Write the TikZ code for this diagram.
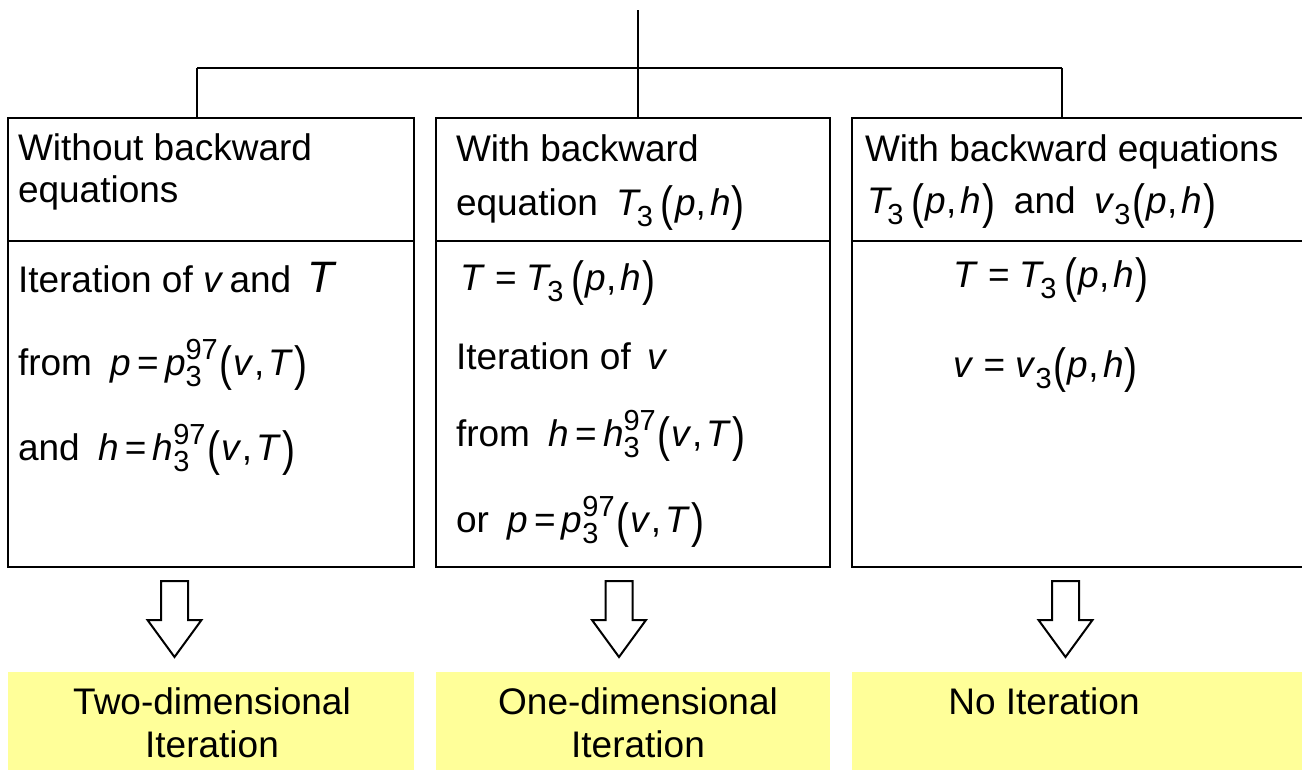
\documentclass[tikz,border=0pt]{standalone}
\usepackage{fontspec}
\setmainfont{Liberation Sans}
\usetikzlibrary{calc}
\definecolor{pale}{RGB}{255,255,153}
\newcommand{\vv}[1]{\textit{#1}}
\newcommand{\subsupx}[2]{\makebox[0pt][l]{\raisebox{-0.3em}{\fontsize{29}{29}\selectfont #1}}\raisebox{0.42em}{\fontsize{29}{29}\selectfont #2}}
\newcommand{\subx}[1]{\raisebox{-0.3em}{\fontsize{29}{29}\selectfont #1}}
\newcommand{\lpar}{\kern0.05em\raisebox{-0.14em}{\scalebox{1.05}[1.3]{(}}\kern0.03em}
\newcommand{\rpar}{\kern0.03em\raisebox{-0.14em}{\scalebox{1.05}[1.3]{)}}}
\newcommand{\cm}{,\kern0.12em}
\tikzset{
  panel/.style={draw, line width=2pt, inner sep=0pt, outer sep=0pt},
  result/.style={fill=pale, draw=none, inner sep=0pt, outer sep=0pt},
  txt/.style={anchor=base west, inner sep=0pt, outer sep=0pt},
  ctxt/.style={anchor=base, inner sep=0pt, outer sep=0pt},
  wire/.style={line width=2pt},
  blockarrow/.pic={\draw[line width=2pt, line join=miter, fill=white]
     (-13.5,0) -- (13.5,0) -- (13.5,39) -- (27,39) -- (0,76) -- (-27,39) -- (-13.5,39) -- cycle;}
}
\begin{document}
\begin{tikzpicture}[x=1pt,y=-1pt, every node/.append style={font=\fontsize{37}{42}\selectfont}]
\useasboundingbox (0,0) rectangle (1302,769);
% panels
\node[panel, minimum width=406pt, minimum height=449pt] (b1) at (211,342.5) {};
\node[panel, minimum width=394pt, minimum height=449pt] (b2) at (633,342.5) {};
\node[panel, minimum width=458pt, minimum height=449pt] (b3) at (1081,342.5) {};
\foreach \b in {b1,b2,b3}{
  \draw[wire] ($(\b.north west)+(0,123)$) -- ($(\b.north east)+(0,123)$);
}
% tree
\coordinate (root) at (638,10);
\coordinate (busL) at (197,68);
\coordinate (busR) at (1062,68);
\draw[wire] (root) -- (root |- b2.north);
\draw[wire] (busL) -- (busR);
\draw[wire] (busL) -- (busL |- b1.north);
\draw[wire] (busR) -- (busR |- b3.north);
% panel 1 texts
\node[txt] (t11) at (18,160) {Without backward};
\node[txt] (t12) at (18,202) {equations};
\node[txt] (t13) at (18,292) {Iteration of \vv{v}\,and\, {\fontsize{44}{44}\selectfont\vv{T}}};
\node[txt] (t14) at (18,375) {from\enspace\vv{p}\,=\,\vv{p}\subsupx{3}{97}\lpar\vv{v}\cm\vv{T}\rpar};
\node[txt] (t15) at (18,460) {and\enspace\vv{h}\,=\,\vv{h}\subsupx{3}{97}\lpar\vv{v}\cm\vv{T}\rpar};
% panel 2 texts
\node[txt] (t21) at (456,161) {With backward};
\node[txt] (t22) at (456,215) {equation\enspace\vv{T}\kern-0.12em\subx{3}\,\lpar\vv{p}\cm\vv{h}\rpar};
\node[txt] (t23) at (460,290) {\vv{T}\;=\;\vv{T}\kern-0.12em\subx{3}\,\lpar\vv{p}\cm\vv{h}\rpar};
\node[txt] (t24) at (456,369) {Iteration of\, \vv{v}};
\node[txt] (t25) at (456,446) {from\enspace\vv{h}\,=\,\vv{h}\subsupx{3}{97}\lpar\vv{v}\cm\vv{T}\rpar};
\node[txt] (t26) at (456,532) {or\enspace\vv{p}\,=\,\vv{p}\subsupx{3}{97}\lpar\vv{v}\cm\vv{T}\rpar};
% panel 3 texts
\node[txt] (t31) at (865,161) {With backward equations};
\node[txt] (t32) at (867,213) {\vv{T}\kern-0.12em\subx{3}\,\lpar\vv{p}\cm\vv{h}\rpar\enspace and\enspace\vv{v}\subx{3}\lpar\vv{p}\cm\vv{h}\rpar};
\node[txt] (t33) at (953,287) {\vv{T}\;=\;\vv{T}\kern-0.12em\subx{3}\,\lpar\vv{p}\cm\vv{h}\rpar};
\node[txt] (t34) at (953,377) {\vv{v}\;=\;\vv{v}\subx{3}\lpar\vv{p}\cm\vv{h}\rpar};
% block arrows
\pic at (174.5,581) {blockarrow};
\pic at (619,581) {blockarrow};
\pic at (1065.5,581) {blockarrow};
% results
\node[result, minimum width=406pt, minimum height=100pt] (r1) at (211,722) {};
\node[result, minimum width=394pt, minimum height=100pt] (r2) at (633,722) {};
\node[result, minimum width=458pt, minimum height=100pt] (r3) at (1081,722) {};
\node[ctxt] (r1a) at (212,714) {Two-dimensional};
\node[ctxt] (r1b) at (212,757) {Iteration};
\node[ctxt] (r2a) at (638,714) {One-dimensional};
\node[ctxt] (r2b) at (638,757) {Iteration};
\node[ctxt] (r3a) at (1044,714) {No Iteration};
\end{tikzpicture}
\end{document}
